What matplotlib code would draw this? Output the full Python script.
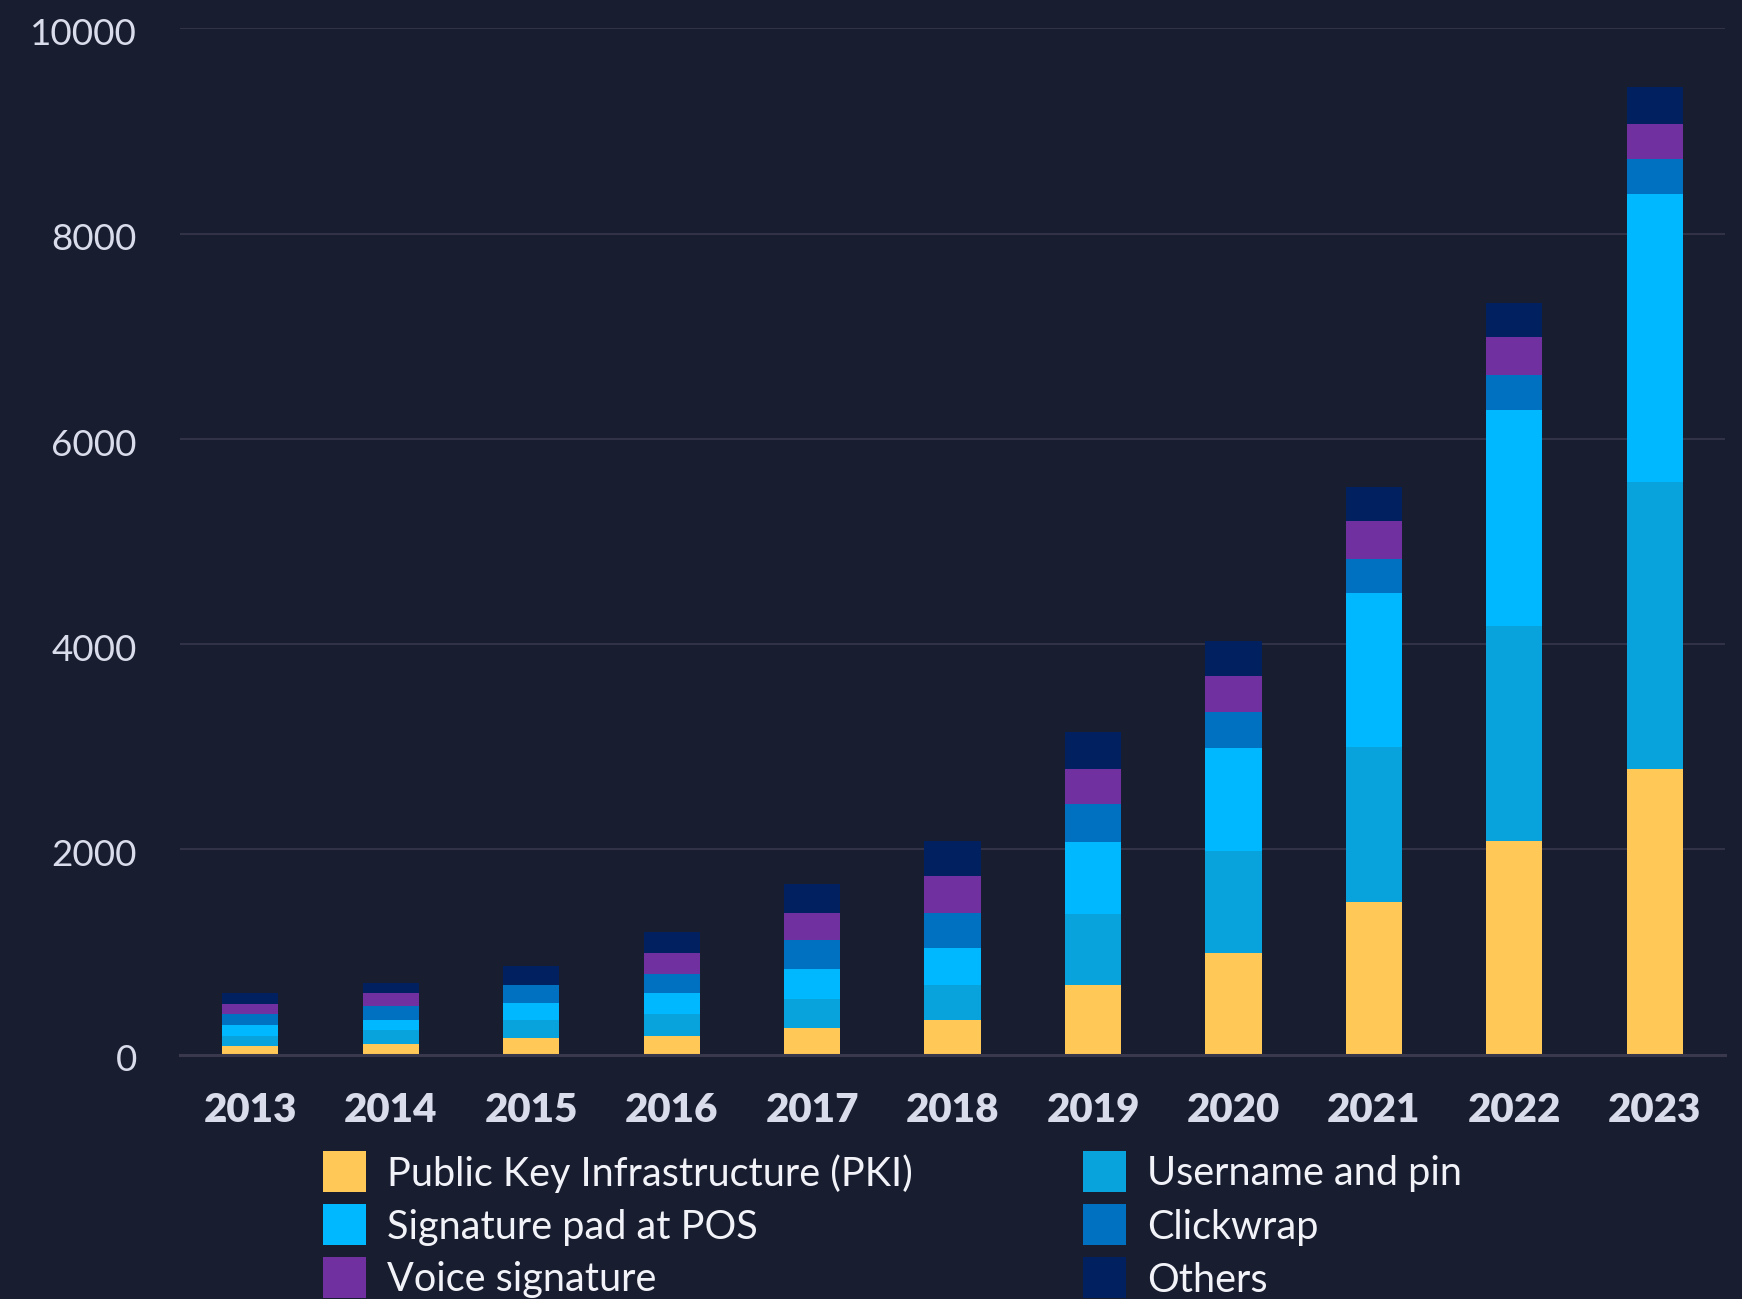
import matplotlib
matplotlib.use("Agg")
import matplotlib.pyplot as plt
from matplotlib.patches import Rectangle
from matplotlib.transforms import ScaledTranslation
import numpy as np

years = ["2013", "2014", "2015", "2016", "2017", "2018", "2019", "2020", "2021", "2022", "2023"]
series_names = ["Public Key Infrastructure (PKI)", "Username and pin", "Signature pad at POS",
                "Clickwrap", "Voice signature", "Others"]
pki = [78, 107, 156, 185, 263, 341, 682, 993, 1483, 2084, 2784]
username = [107, 127, 185, 205, 282, 341, 692, 987, 1509, 2095, 2797]
sigpad = [107, 107, 156, 214, 292, 360, 701, 1010, 1509, 2105, 2804]
clickwrap = [100, 130, 185, 178, 279, 341, 370, 344, 330, 335, 338]
voice = [104, 133, 0, 211, 266, 360, 341, 357, 370, 373, 345]
others = [107, 97, 178, 201, 282, 341, 357, 341, 326, 335, 356]
colors = ["#FFC857", "#08A3DC", "#00B8FF", "#0070C0", "#7030A0", "#002060"]
yticks = [0, 2000, 4000, 6000, 8000, 10000]

BG = "#191D30"
FONT = ["Lato", "DejaVu Sans"]
plt.rcParams["font.family"] = FONT

W, H = 1742, 1299
fig = plt.figure(figsize=(W / 100, H / 100), dpi=100, facecolor=BG)
ax = fig.add_axes([180 / W, 1 - 1054.5 / H, (1725 - 180) / W, (1054.5 - 28.3) / H])
ax.set_facecolor(BG)

x = np.arange(len(years))
bottom = np.zeros(len(years))
for name, vals, c in zip(series_names, [pki, username, sigpad, clickwrap, voice, others], colors):
    v = np.array(vals, dtype=float)
    ax.bar(x, v, width=0.4, bottom=bottom, color=c, label=name, zorder=3, linewidth=0)
    bottom += v

ax.set_xlim(-0.5, 10.5)
ax.set_ylim(0, 10000)
ax.set_yticks(yticks)
ax.set_yticklabels([str(t) for t in yticks])
ax.set_xticks(x)
ax.set_xticklabels(years)
for s in ["top", "right", "left"]:
    ax.spines[s].set_visible(False)
ax.spines["bottom"].set_color("#3A384C")
ax.spines["bottom"].set_linewidth(2.2)
ax.spines["bottom"].set_zorder(4)
ax.grid(axis="y", color="#34344A", linewidth=1.3, zorder=0)
ax.tick_params(axis="y", length=0, pad=31, labelsize=26.5, labelcolor="#D9DCEA")
ax.tick_params(axis="x", length=0, pad=27, labelsize=29, labelcolor="#D9DCEA")
for lab in ax.get_xticklabels():
    lab.set_fontweight("heavy")
shift = ScaledTranslation(0, -3.3 / 100, fig.dpi_scale_trans)
for lab in ax.get_yticklabels():
    lab.set_transform(lab.get_transform() + shift)

# legend (two columns, three rows)
col_x = [323, 1083]
row_top = [1151, 1204, 1257]
for i, (name, c) in enumerate(zip(series_names, colors)):
    cx = col_x[i % 2]
    ry = row_top[i // 2]
    fig.add_artist(Rectangle((cx / W, 1 - (ry + 41) / H), 43 / W, 41 / H,
                             transform=fig.transFigure, facecolor=c, edgecolor="none"))
    fig.text((cx + 64) / W, 1 - (ry + 23) / H, name, fontsize=28.5, color="#F2F3F8",
             va="center", ha="left")

fig.savefig("out.png", dpi=100, facecolor=BG)
